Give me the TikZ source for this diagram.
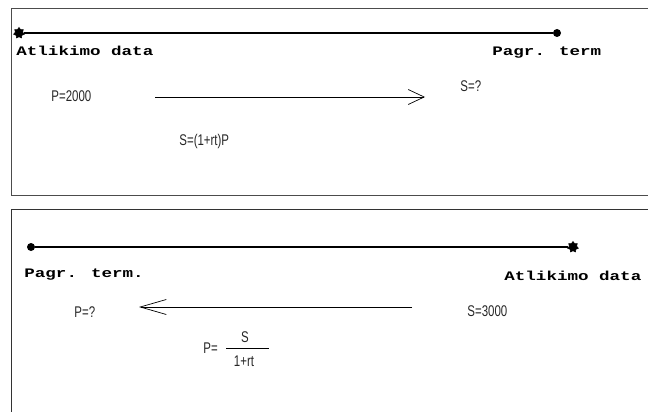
\documentclass[tikz,border=0pt]{standalone}
\usepackage{fontspec}
\usepackage{tikz}
\usetikzlibrary{arrows.meta}
\usetikzlibrary{shapes.geometric}
\newfontfamily\labelfont[FakeStretch=1.35]{Liberation Mono}
\newfontfamily\valuefont[FakeStretch=0.74]{Liberation Sans}

\begin{document}
\begin{tikzpicture}[
    x=1pt, y=-1pt,
    >=Stealth,
    line width=0.8pt,
    timeline/.style={line width=1.6pt},
    flow/.style={line width=0.7pt, -{Straight Barb[length=16pt, width=15pt, line width=0.7pt]}},
    dot/.style={circle, fill, inner sep=0pt, minimum size=8pt},
    burst/.style={star, star points=7, star point ratio=1.5, fill, draw, line width=0.6pt, inner sep=0pt, minimum size=11pt},
    lbl/.style={font=\labelfont\bfseries\fontsize{13}{13}\selectfont, inner sep=0pt},
    val/.style={font=\valuefont\fontsize{15.5}{15.5}\selectfont, text=black!85, inner sep=0pt}
]
\useasboundingbox (0,0) rectangle (648,412);
\clip (0,0) rectangle (648,412);

%-------------------------
% Top frame
%-------------------------
\draw[line width=1pt, black!70] (11,9) rectangle (660,195);

% Timeline
\node[burst] (startT) at (19,33) {};
\node[dot] (endT) at (557,33) {};
\draw[timeline] (startT) -- (endT);

% Labels
\node[lbl, anchor=west] (dateT) at (16,51) {Atlikimo data};
\node[lbl, anchor=west] (termT) at (492,53) {Pagr. term};

% Values and arrow
\node[val, anchor=west] (P) at (51,96) {P=2000};
\node[val, anchor=west] (Sq) at (460,86) {S=?};
\coordinate (fromT) at (155,97);
\coordinate (toT) at (425,97);
\draw[flow] (fromT) -- (toT);
\node[val, anchor=west] (formT) at (179,141) {S=(1+rt)P};


%-------------------------
% Bottom frame
%-------------------------
\draw[line width=1pt, black!80] (11,209) rectangle (660,430);

% Timeline
\node[dot] (startB) at (31,247) {};
\node[burst] (endB) at (573,247) {};
\draw[timeline] (startB) -- (endB);

% Labels
\node[lbl, anchor=west] (termB) at (24,275) {Pagr. term.};
\node[lbl, anchor=west] (dateB) at (504,276) {Atlikimo data};

% Values and arrow
\node[val, anchor=west] (Pq) at (74,312) {P=?};
\node[val, anchor=west] (S) at (467,311) {S=3000};
\coordinate (fromB) at (412,307);
\coordinate (toB) at (139,307);
\draw[flow, -{Straight Barb[length=26pt, width=15pt, line width=0.7pt]}] (fromB) -- (toB);

% Discount formula
\node[val, anchor=west] (Peq) at (203,348) {P=};
\node[val] (num) at (245,337) {S};
\node[val] (den) at (244,361) {1+rt};
\draw[line width=0.7pt] (226,348) -- (269,348);
\end{tikzpicture}
\end{document}
